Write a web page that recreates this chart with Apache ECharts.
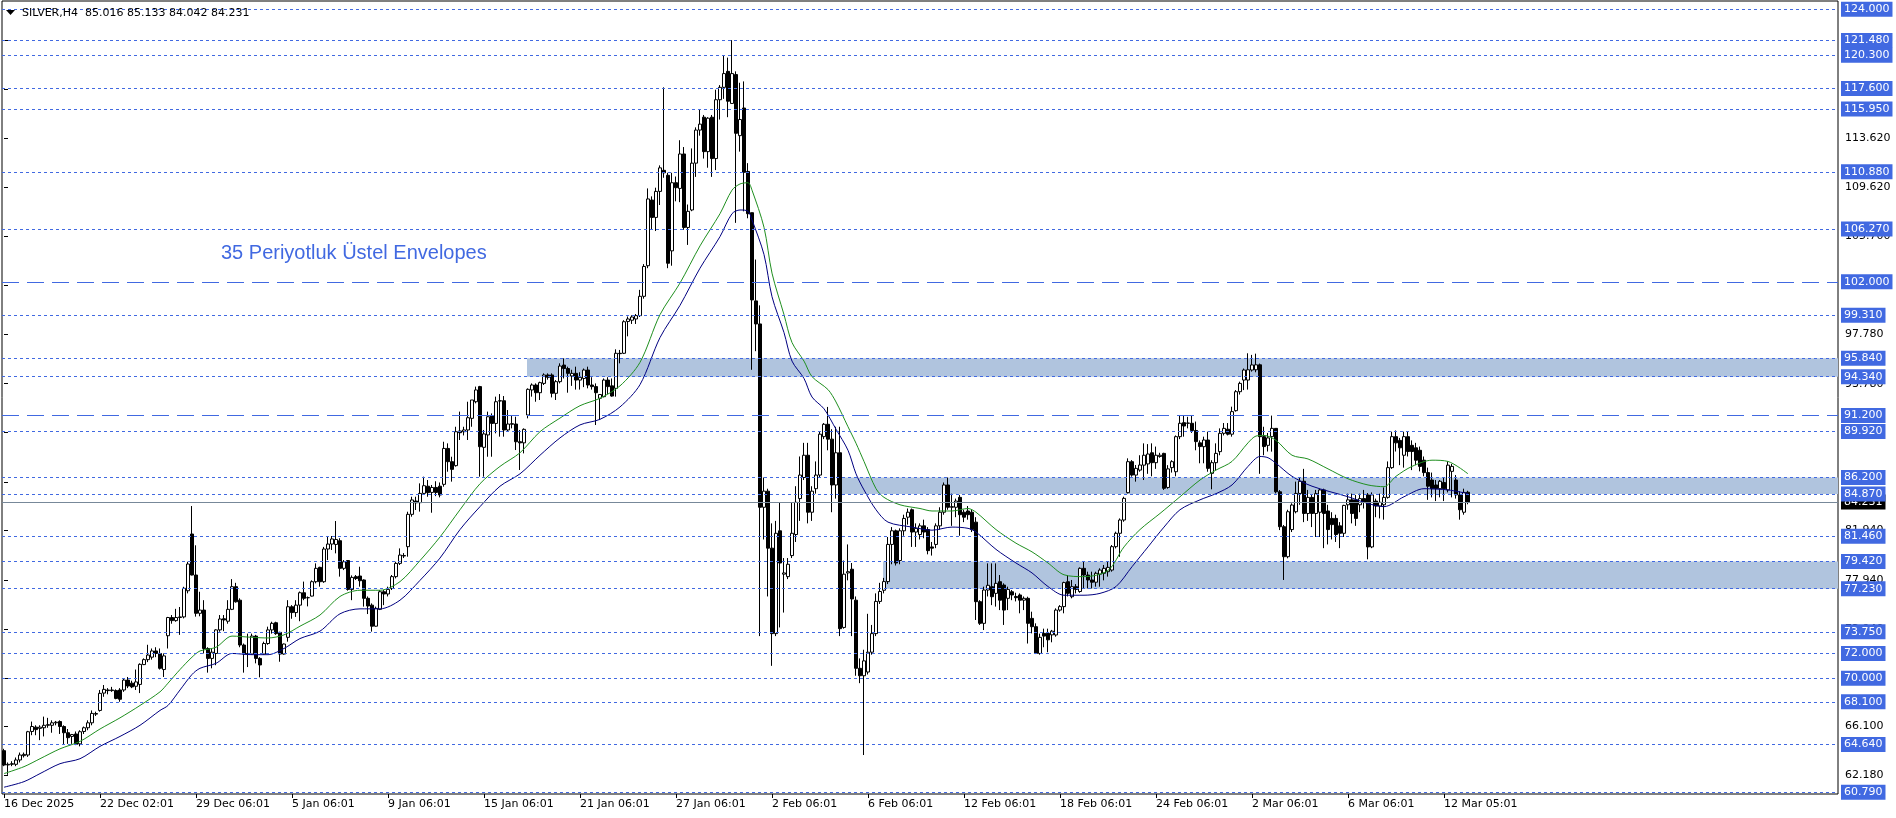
<!DOCTYPE html>
<html><head><meta charset="utf-8">
<script src="https://cdn.jsdelivr.net/npm/echarts@6/dist/echarts.min.js"></script>
<style>html,body{margin:0;padding:0;background:#fff}#c{width:1896px;height:818px}</style>
</head><body><div id="c"></div><script>
const symbol = 'SILVER,H4';
const annotation = '35 Periyotluk Üstel Envelopes';
const slots = 459;
const tickBars = [0,24,48,72,96,120,144,168,192,216,240,264,288,312,336,360];
const tickLabels = ['16 Dec 2025','22 Dec 02:01','29 Dec 06:01','5 Jan 06:01','9 Jan 06:01','15 Jan 06:01','21 Jan 06:01','27 Jan 06:01','2 Feb 06:01','6 Feb 06:01','12 Feb 06:01','18 Feb 06:01','24 Feb 06:01','2 Mar 06:01','6 Mar 06:01','12 Mar 05:01'];
const axisTicks = [62.18,66.10,70.02,73.94,77.94,81.94,85.86,89.86,93.78,97.78,101.70,105.70,109.62,113.62,117.54,121.54];
const levels = [124.000,121.480,120.300,117.600,115.950,110.880,106.270,102.000,99.310,95.840,94.340,91.200,89.920,86.200,84.870,81.460,79.420,77.230,73.750,72.000,70.000,68.100,64.640,60.790];
const longDashLevels = [102.000, 91.200];
const zoneStarts = [130.75, 209, 219.75];
const zoneLows = [94.34, 84.87, 77.23];
const zoneHighs = [95.84, 86.20, 79.42];
const bid = 84.231;
// [open, high, low, close]
const ohlc = [
[64.15,64.3,62.9,62.99],[63.0,63.2,62.2,63.05],[63.05,63.3,62.9,63.1],[63.05,63.6,62.9,63.4],[63.4,64.0,63.2,63.8],
[63.75,64.0,63.6,63.85],[63.8,65.75,63.65,65.68],[65.7,66.5,65.4,66.1],[66.05,66.2,65.4,65.85],[65.95,66.2,65.0,66.05],
[66.0,66.9,65.3,66.2],[66.2,66.8,66.0,66.25],[66.2,66.6,65.6,66.4],[66.4,66.55,66.2,66.45],[66.5,66.6,65.5,66.1],
[66.1,66.2,64.66,65.6],[65.6,65.9,64.7,65.2],[65.3,65.5,64.7,65.45],[65.5,65.7,64.6,64.66],[64.7,65.8,64.5,65.68],
[65.7,66.1,65.5,66.0],[66.0,66.6,65.8,66.4],[66.4,67.4,66.2,67.16],[67.1,67.3,66.95,67.15],[67.4,69.05,67.3,68.78],
[68.8,69.45,68.5,69.1],[69.05,69.2,68.7,69.0],[69.0,69.3,68.9,69.05],[69.0,69.1,68.3,68.37],[69.05,69.2,68.1,68.3],
[69.05,70.0,68.9,69.85],[69.85,70.1,69.2,69.37],[69.6,69.8,69.2,69.3],[69.35,70.7,69.05,69.7],[69.5,71.2,68.8,71.12],
[71.1,71.6,71.06,71.5],[71.5,72.7,71.3,71.87],[71.7,72.4,71.5,72.2],[72.2,72.5,71.7,72.0],[72.0,72.4,70.7,70.8],
[70.7,72.0,70.1,71.8],[73.43,74.95,72.4,74.9],[74.9,75.1,74.4,74.65],[74.65,75.6,74.56,74.9],[74.9,75.75,73.5,74.95],
[74.95,77.38,74.83,77.26],[77.06,79.4,76.85,79.22],[81.64,83.9,78.3,78.33],[78.33,80.73,74.97,75.24],[75.24,76.98,75.0,75.5],
[75.5,76.3,72.0,72.4],[72.4,72.5,70.45,71.6],[71.6,72.4,70.8,72.1],[72.0,73.95,71.05,73.9],[73.9,75.1,73.75,74.78],
[74.8,75.1,73.8,74.7],[74.6,76.3,74.4,75.56],[75.56,78.0,75.5,77.39],[77.39,77.7,76.1,76.17],[76.3,76.45,72.5,72.68],
[72.68,72.8,70.45,71.95],[71.95,73.6,70.9,72.0],[71.95,73.6,71.9,73.4],[73.4,73.5,71.2,71.6],[71.6,71.7,70.07,71.07],
[71.95,72.95,71.9,72.8],[72.8,74.16,72.7,73.9],[73.9,74.56,73.6,74.43],[74.48,74.56,73.5,73.6],[73.7,73.75,71.33,71.95],
[71.95,72.8,71.9,72.76],[73.3,76.3,72.95,75.77],[75.77,75.9,74.8,75.3],[75.3,76.3,74.95,75.9],[75.9,77.0,74.6,76.9],
[76.9,77.8,76.3,76.45],[76.5,76.6,75.8,76.5],[76.63,77.9,76.6,77.79],[77.79,79.27,77.66,78.87],[78.95,79.0,77.39,77.79],
[77.79,80.6,77.7,80.43],[80.43,81.48,79.54,80.83],[80.83,81.48,80.35,81.24],[80.8,82.69,80.08,81.2],[81.1,81.3,78.2,78.87],
[78.87,79.54,78.73,79.4],[79.5,79.54,77.07,77.17],[77.17,78.3,76.3,78.14],[78.2,78.33,77.93,78.05],[78.25,79.0,77.39,77.87],
[77.93,77.98,75.78,76.45],[76.45,76.6,75.18,75.83],[75.9,76.04,73.76,74.2],[74.2,75.78,74.16,75.64],[75.56,77.12,75.5,76.98],
[76.98,77.12,75.9,76.8],[76.8,77.39,76.6,77.17],[77.25,78.33,77.12,78.2],[78.2,79.4,78.06,79.27],[79.27,80.48,79.14,79.94],
[79.9,80.1,79.7,79.87],[80.62,83.44,79.81,83.23],[83.23,84.65,83.04,84.39],[84.3,84.65,83.58,84.16],[84.17,85.73,83.45,84.92],
[84.92,86.27,84.79,85.54],[85.5,86.0,84.65,84.98],[85.0,85.6,83.36,85.4],[85.4,85.9,84.7,85.0],[85.5,85.8,84.6,84.79],
[85.65,89.09,85.46,88.55],[88.55,88.96,86.67,87.48],[87.48,87.88,85.87,86.86],[87.16,90.3,87.08,89.9],[89.96,91.52,89.23,89.82],
[89.9,90.3,89.6,90.04],[90.04,92.32,89.23,91.03],[90.98,92.46,90.3,92.46],[92.32,93.54,92.19,93.27],[93.54,93.6,86.27,88.69],
[88.64,90.04,86.27,89.72],[89.64,91.52,87.88,91.11],[91.17,91.38,87.88,90.57],[90.57,92.73,89.77,92.32],[92.38,92.94,89.5,92.4],
[92.4,92.78,89.5,90.04],[90.04,91.65,89.9,90.52],[90.5,91.25,90.17,90.55],[90.52,91.11,88.42,89.09],[89.09,90.04,86.81,89.0],
[89.0,90.17,88.15,90.09],[91.25,93.4,90.98,93.32],[93.27,93.8,92.73,93.67],[93.67,93.8,92.32,93.05],[93.05,93.94,92.46,93.86],
[93.8,94.61,93.67,94.48],[94.48,94.61,94.1,94.29],[94.48,94.61,92.67,93.0],[93.0,94.07,92.46,93.94],[93.94,95.42,93.8,95.2],
[95.28,95.82,94.2,95.0],[95.0,95.15,93.05,94.61],[94.4,94.9,93.6,94.61],[94.61,95.15,93.3,94.07],[94.07,94.7,93.3,94.29],
[94.2,95.0,93.5,94.88],[94.88,95.15,93.4,93.67],[93.67,94.3,93.3,93.54],[93.54,93.8,90.44,93.05],[92.6,92.9,90.84,92.9],
[92.73,94.2,92.67,94.07],[94.07,94.3,92.95,93.54],[93.6,94.2,92.73,92.78],[93.4,96.55,92.73,96.23],[96.23,96.5,95.42,96.2],
[96.23,98.9,96.17,98.78],[98.8,99.2,97.6,99.0],[98.9,99.3,98.6,99.16],[99.0,99.4,98.6,99.27],[99.27,101.35,99.16,100.83],
[100.83,103.43,100.64,103.24],[103.3,109.54,103.1,108.69],[108.6,108.9,106.2,107.2],[107.2,109.6,106.1,109.3],[109.3,111.4,108.2,111.2],
[111.0,117.7,110.4,110.8],[110.6,110.8,103.1,103.5],[104.5,110.8,103.3,110.0],[110.0,110.5,108.5,109.6],[109.54,113.43,108.43,112.32],
[112.32,112.88,106.2,106.39],[106.39,108.24,104.98,107.69],[107.8,112.77,107.7,111.58],[111.58,114.47,110.47,114.25],[114.25,115.95,113.8,114.73],
[115.29,115.47,111.95,112.51],[112.51,115.29,111.21,115.21],[115.29,115.47,110.47,111.95],[111.95,117.51,111.02,116.7],[116.7,117.88,115.1,117.7],
[117.7,120.29,116.77,118.81],[118.99,120.1,115.29,116.58],[116.4,121.51,116.4,118.81],[118.73,118.99,106.76,113.99],[113.8,118.07,112.51,115.1],
[116.03,118.18,107.69,110.84],[110.91,111.58,107.13,107.5],[107.58,107.58,94.9,100.54],[100.46,103.8,96.4,98.6],[98.6,100.1,73.4,83.8],
[83.8,86.2,81.2,85.1],[85.1,85.3,76.6,80.5],[80.5,82.5,71.0,73.6],[73.6,82.7,73.4,81.7],[81.9,84.2,74.1,79.3],
[78.4,79.7,75.3,78.5],[78.2,79.7,78.0,79.2],[79.9,84.2,79.7,81.7],[81.6,85.5,81.0,84.2],[84.5,87.9,82.7,86.4],
[86.2,89.0,86.0,88.0],[88.0,89.0,82.5,83.4],[83.4,85.5,82.7,85.1],[85.3,87.5,84.9,86.4],[86.4,89.9,86.2,89.7],
[89.5,90.6,89.3,90.5],[90.5,91.9,88.4,89.3],[89.3,90.1,83.4,85.6],[85.6,90.3,84.5,88.2],[88.2,90.3,73.4,74.0],
[74.1,79.5,74.0,78.4],[78.5,80.8,77.9,78.6],[78.8,79.3,73.4,76.4],[76.3,76.6,70.2,70.8],[70.8,71.6,69.6,70.2],
[70.2,72.3,63.8,71.4],[70.5,75.2,70.3,72.1],[72.1,74.3,71.9,73.6],[73.6,76.85,73.4,76.2],[76.2,77.7,76.0,77.0],
[77.1,78.1,76.85,77.8],[77.8,81.4,77.6,80.8],[80.8,82.2,79.2,81.9],[81.9,82.0,79.1,79.3],[79.5,82.1,79.2,81.9],
[81.9,83.2,81.5,82.9],[83.0,83.7,82.4,83.4],[83.6,83.7,80.6,81.8],[81.8,82.5,80.6,82.1],[81.6,82.5,81.2,82.3],
[82.3,82.8,81.3,81.8],[82.0,82.2,80.0,80.3],[80.6,81.0,79.9,80.5],[80.8,82.5,80.5,82.3],[82.3,83.8,82.0,83.4],
[83.4,85.8,83.2,85.6],[85.6,86.2,83.6,83.8],[83.8,84.9,82.3,83.85],[83.8,84.5,83.0,84.3],[84.6,84.8,81.5,83.2],
[83.4,83.6,82.6,83.0],[83.5,83.9,82.8,83.2],[83.4,83.6,81.8,82.0],[82.6,83.0,74.7,76.18],[76.18,76.3,74.3,74.43],
[74.43,77.39,73.89,77.12],[77.12,79.27,76.6,77.5],[77.39,79.27,75.9,76.58],[76.85,79.27,75.78,77.66],[77.79,78.33,75.5,76.3],
[77.52,77.66,74.3,75.5],[76.45,77.39,75.5,77.17],[76.98,77.12,76.3,76.72],[76.6,76.9,76.2,76.5],[76.72,76.85,75.24,76.3],
[76.3,76.6,75.5,76.45],[76.45,76.58,72.8,74.43],[74.83,75.37,73.62,74.16],[74.16,74.43,71.95,72.0],[72.0,73.6,71.9,73.3],
[73.62,74.0,72.5,73.4],[73.62,74.0,72.1,73.1],[73.5,73.9,72.9,73.8],[73.49,75.64,73.35,75.5],[75.5,75.9,75.37,75.78],
[75.78,77.79,75.24,77.72],[77.79,78.33,76.6,76.85],[76.58,77.93,76.45,77.39],[77.39,77.6,76.85,77.17],[77.0,78.95,76.9,78.87],
[78.87,79.42,77.25,78.33],[78.33,78.6,77.25,77.93],[77.93,78.6,77.25,77.75],[77.75,78.6,77.39,78.47],[78.4,78.87,77.39,78.73],
[78.47,79.14,77.9,78.87],[78.6,79.4,78.2,78.95],[78.73,80.75,78.6,80.62],[80.62,81.83,80.48,81.7],[81.7,82.9,79.8,82.77],
[82.77,84.65,82.63,84.52],[84.98,87.75,84.92,87.48],[87.48,87.61,86.27,86.4],[86.4,87.21,85.87,86.94],[86.8,88.0,86.67,87.21],
[87.2,88.96,86.0,88.0],[87.3,88.9,86.5,88.1],[88.2,88.96,86.3,87.4],[87.4,88.7,86.9,88.0],[87.9,88.2,87.8,88.0],
[88.15,88.2,85.2,85.33],[85.4,87.2,85.3,86.9],[87.0,87.6,86.6,87.48],[86.67,89.6,86.3,89.5],[89.5,91.2,89.3,90.58],
[90.63,91.25,89.5,90.36],[90.58,91.1,90.17,90.6],[90.58,91.25,89.8,90.0],[90.0,90.72,88.4,89.1],[89.0,89.2,87.35,88.7],
[88.69,89.5,87.35,89.23],[89.23,89.9,86.67,86.94],[86.54,87.6,85.25,87.4],[87.4,88.96,86.8,88.15],[88.29,90.17,88.0,89.77],
[89.77,90.6,89.6,90.17],[90.1,90.6,89.6,89.7],[89.7,91.92,89.5,91.52],[91.6,93.26,91.52,93.13],[93.13,93.94,92.9,93.8],
[94.07,95.0,93.26,94.88],[94.07,96.23,93.3,94.9],[94.88,96.1,94.75,95.29],[94.9,96.2,94.7,95.3],[95.3,95.4,86.5,89.5],
[89.5,90.3,88.0,88.7],[88.8,89.8,88.3,89.4],[89.5,91.2,88.29,90.17],[90.17,90.17,84.92,85.05],[85.05,85.19,81.96,82.23],
[82.23,82.37,77.93,79.81],[79.81,83.6,79.68,83.44],[82.0,84.12,81.8,83.98],[83.44,85.87,83.31,84.92],[84.92,86.2,84.0,85.9],
[85.9,86.9,82.6,83.3],[83.3,85.2,82.7,84.6],[84.6,84.8,82.2,83.3],[83.3,85.2,81.4,84.9],[83.4,85.3,81.4,85.2],
[85.2,85.3,80.5,83.3],[83.5,84.0,80.8,82.0],[82.9,83.4,81.2,82.4],[82.9,83.2,81.0,81.6],[82.3,82.6,80.5,81.7],
[81.7,84.0,81.4,83.95],[84.0,84.9,83.6,84.4],[84.4,84.9,82.5,83.3],[84.4,84.8,82.3,82.9],[84.0,84.9,83.4,84.5],
[84.5,85.2,83.7,84.2],[84.8,84.95,79.6,80.6],[80.6,85.0,80.5,84.8],[84.3,84.5,83.0,83.9],[83.9,84.9,82.9,84.2],
[84.0,85.4,82.8,84.6],[84.6,87.5,84.5,87.0],[87.0,89.9,86.9,89.5],[89.5,90.0,88.3,89.0],[89.2,89.4,87.2,88.6],
[88.0,89.9,87.0,89.5],[89.5,89.9,87.9,88.3],[88.8,89.2,86.8,88.3],[88.6,89.0,87.2,87.6],[88.4,88.7,86.7,87.1],
[87.6,87.9,86.3,86.6],[86.6,87.0,84.4,85.5],[86.0,86.6,84.6,85.3],[85.6,86.0,84.3,85.3],[85.3,86.0,84.6,85.9],
[85.8,86.2,84.3,85.3],[85.2,87.5,85.0,87.2],[86.7,87.3,84.6,87.1],[86.0,86.4,84.5,84.8],[84.8,85.1,82.8,83.6],
[83.4,85.3,83.2,85.0],[85.016,85.133,84.042,84.231]
];
const upperEnv = [[0,62.3],[5,62.86],[9,63.5],[14,64.3],[19,64.9],[24,65.9],[29,66.8],[34,67.8],[39,68.9],[41,69.6],[44,70.7],[47,71.7],[49,72.2],[53,72.5],[57,73.4],[62,73.3],[66,73.25],[70,73.5],[74,74.2],[79,75.1],[84,76.6],[89,77.1],[94,77.1],[99,77.8],[104,79.5],[109,81.4],[114,83.6],[119,85.7],[124,87.1],[129,88.2],[134,89.9],[139,91.0],[144,92.0],[149,92.6],[154,93.6],[159,95.5],[164,99.35],[169,101.9],[174,104.9],[179,107.5],[182,109.4],[184,109.9],[186,110.0],[187,109.4],[190,106.4],[192,102.7],[195,99.35],[197,97.1],[200,95.6],[202,94.35],[206,93.3],[208,92.3],[211,90.3],[213,88.97],[215,87.5],[218,85.3],[220,84.6],[224,84.0],[229,83.7],[232,83.5],[237,83.5],[241,83.7],[243,83.4],[248,82.0],[253,80.9],[257,80.2],[261,79.3],[265,78.35],[270,78.2],[276,78.7],[280,80.6],[284,82.0],[289,83.3],[294,84.65],[299,86.0],[303,86.8],[307,87.5],[311,89.0],[313,89.55],[315,89.6],[318,89.2],[322,88.0],[326,87.7],[331,86.9],[336,86.1],[341,85.6],[345,85.46],[348,86.3],[352,87.1],[357,87.6],[361,87.5],[366,86.5]];
const lowerEnv = [[0,61.2],[5,61.65],[9,62.3],[14,63.1],[19,63.5],[24,64.5],[29,65.3],[34,66.2],[39,67.4],[41,67.8],[44,69.05],[47,70.3],[49,70.8],[53,71.2],[57,72.0],[62,71.9],[66,71.9],[70,72.4],[74,73.2],[79,73.8],[84,75.2],[89,75.6],[94,75.6],[99,76.3],[104,77.9],[109,79.7],[114,82.0],[119,83.85],[124,85.5],[129,86.5],[134,88.0],[139,89.4],[144,90.45],[149,90.9],[154,91.9],[159,93.7],[164,97.5],[169,100.1],[174,103.1],[179,105.65],[182,107.5],[184,107.8],[186,107.7],[187,107.0],[190,104.2],[192,100.8],[195,97.9],[197,95.6],[200,94.2],[202,92.7],[205,91.75],[208,90.1],[211,88.4],[213,86.5],[215,85.2],[218,83.6],[221,82.6],[227,82.2],[232,81.95],[237,82.2],[241,82.1],[243,81.8],[248,80.4],[253,79.3],[257,78.5],[261,77.4],[265,76.7],[270,76.7],[274,76.85],[278,77.4],[282,79.0],[286,80.6],[290,82.2],[294,83.6],[299,84.4],[303,84.9],[307,85.6],[311,87.1],[314,87.9],[316,87.8],[318,87.35],[322,86.3],[327,85.5],[336,84.65],[341,84.1],[345,83.85],[350,84.65],[355,85.3],[361,85.2],[366,84.9]];

const cats = Array.from({length: slots}, (_, i) => 'b' + i);
const labelAt = {};
tickBars.forEach((b, k) => { labelAt[b] = tickLabels[k]; });
const isLabel = (i) => labelAt[i] !== undefined;
const last = ohlc[ohlc.length - 1];
const FONT = 'DejaVu Sans';
const BLUE = '#4169E1';

const chart = echarts.init(document.getElementById('c'), null, {renderer: 'canvas'});
chart.setOption({
  animation: false,
  backgroundColor: '#ffffff',
  grid: {left: 2, right: 58, top: 1, bottom: 24, show: true, borderColor: '#000', borderWidth: 1, backgroundColor: 'transparent'},
  xAxis: [
    {type: 'category', data: cats, boundaryGap: true,
     axisLine: {show: false},
     axisTick: {show: true, interval: isLabel, alignWithLabel: true, length: 4, lineStyle: {color: '#000'}},
     axisLabel: {show: true, interval: isLabel, formatter: (v, i) => labelAt[i] || '', align: 'left', margin: 5, color: '#000', fontFamily: FONT, fontSize: 11},
     splitLine: {show: false}},
    {type: 'value', min: -0.5, max: slots - 0.5, show: false, splitLine: {show: false}}
  ],
  yAxis: {type: 'value', position: 'right', min: 60.653, max: 124.670,
    axisLine: {show: false}, splitLine: {show: false},
    axisTick: {show: true, customValues: axisTicks, length: 4, lineStyle: {color: '#000'}},
    axisLabel: {show: true, customValues: axisTicks, formatter: v => v.toFixed(3), margin: 7, color: '#000', fontFamily: FONT, fontSize: 11}},
  graphic: [
    {type: 'polygon', shape: {points: [[6,10],[15,10],[10.5,15]]}, style: {fill: '#000'}, z: 100},
    {type: 'text', x: 22, y: 13, style: {text: symbol + '  ' + last.map(v => v.toFixed(3)).join(' '), fill: '#000', font: '11px "DejaVu Sans"', verticalAlign: 'middle'}, z: 100},
    {type: 'text', x: 221, y: 253, style: {text: annotation, fill: BLUE, font: '20px "Liberation Sans"', verticalAlign: 'middle'}, z: 100}
  ],
  series: [
    {type: 'line', name: 'zones', xAxisIndex: 1, yAxisIndex: 0, data: [], z: 1, silent: true,
     markArea: {silent: true, itemStyle: {color: '#B0C4DE', opacity: 1},
       data: zoneStarts.map((s, k) => [{xAxis: s, yAxis: zoneLows[k]}, {xAxis: slots - 0.5, yAxis: zoneHighs[k]}])}},
    {type: 'line', name: 'bid', xAxisIndex: 1, yAxisIndex: 0, data: [], z: 1.5, silent: true,
     markLine: {silent: true, symbol: ['none','none'], animation: false,
       data: [{yAxis: bid, lineStyle: {color: '#778899', type: 'solid', width: 1},
         label: {show: true, position: 'end', distance: 3, formatter: bid.toFixed(3), backgroundColor: '#000', color: '#fff', padding: [2,3,1,3], fontFamily: FONT, fontSize: 11, lineHeight: 12}}]}},
    {type: 'line', name: 'levels', xAxisIndex: 1, yAxisIndex: 0, data: [], z: 2, silent: true,
     markLine: {silent: true, symbol: ['none','none'], animation: false,
       data: levels.map(v => ({yAxis: v,
         lineStyle: {color: BLUE, width: 1, type: longDashLevels.includes(v) ? [17,8] : [3,3]},
         label: {show: true, position: 'end', distance: 3, formatter: v.toFixed(3), backgroundColor: BLUE, color: '#fff', padding: [2,3,1,3], fontFamily: FONT, fontSize: 11, lineHeight: 12}}))}},
    {type: 'candlestick', name: 'SILVER', xAxisIndex: 0, yAxisIndex: 0, z: 3, barWidth: 3,
     data: ohlc.map(r => [r[0], r[3], r[2], r[1]]),
     itemStyle: {color: '#ffffff', color0: '#000000', borderColor: '#000000', borderColor0: '#000000', borderWidth: 1}},
    {type: 'line', name: 'upper', xAxisIndex: 0, yAxisIndex: 0, z: 4, data: upperEnv, showSymbol: false, smooth: 0.3,
     lineStyle: {color: '#1f8f1f', width: 1}},
    {type: 'line', name: 'lower', xAxisIndex: 0, yAxisIndex: 0, z: 4, data: lowerEnv, showSymbol: false, smooth: 0.3,
     lineStyle: {color: '#000080', width: 1}}
  ]
});
</script></body></html>
